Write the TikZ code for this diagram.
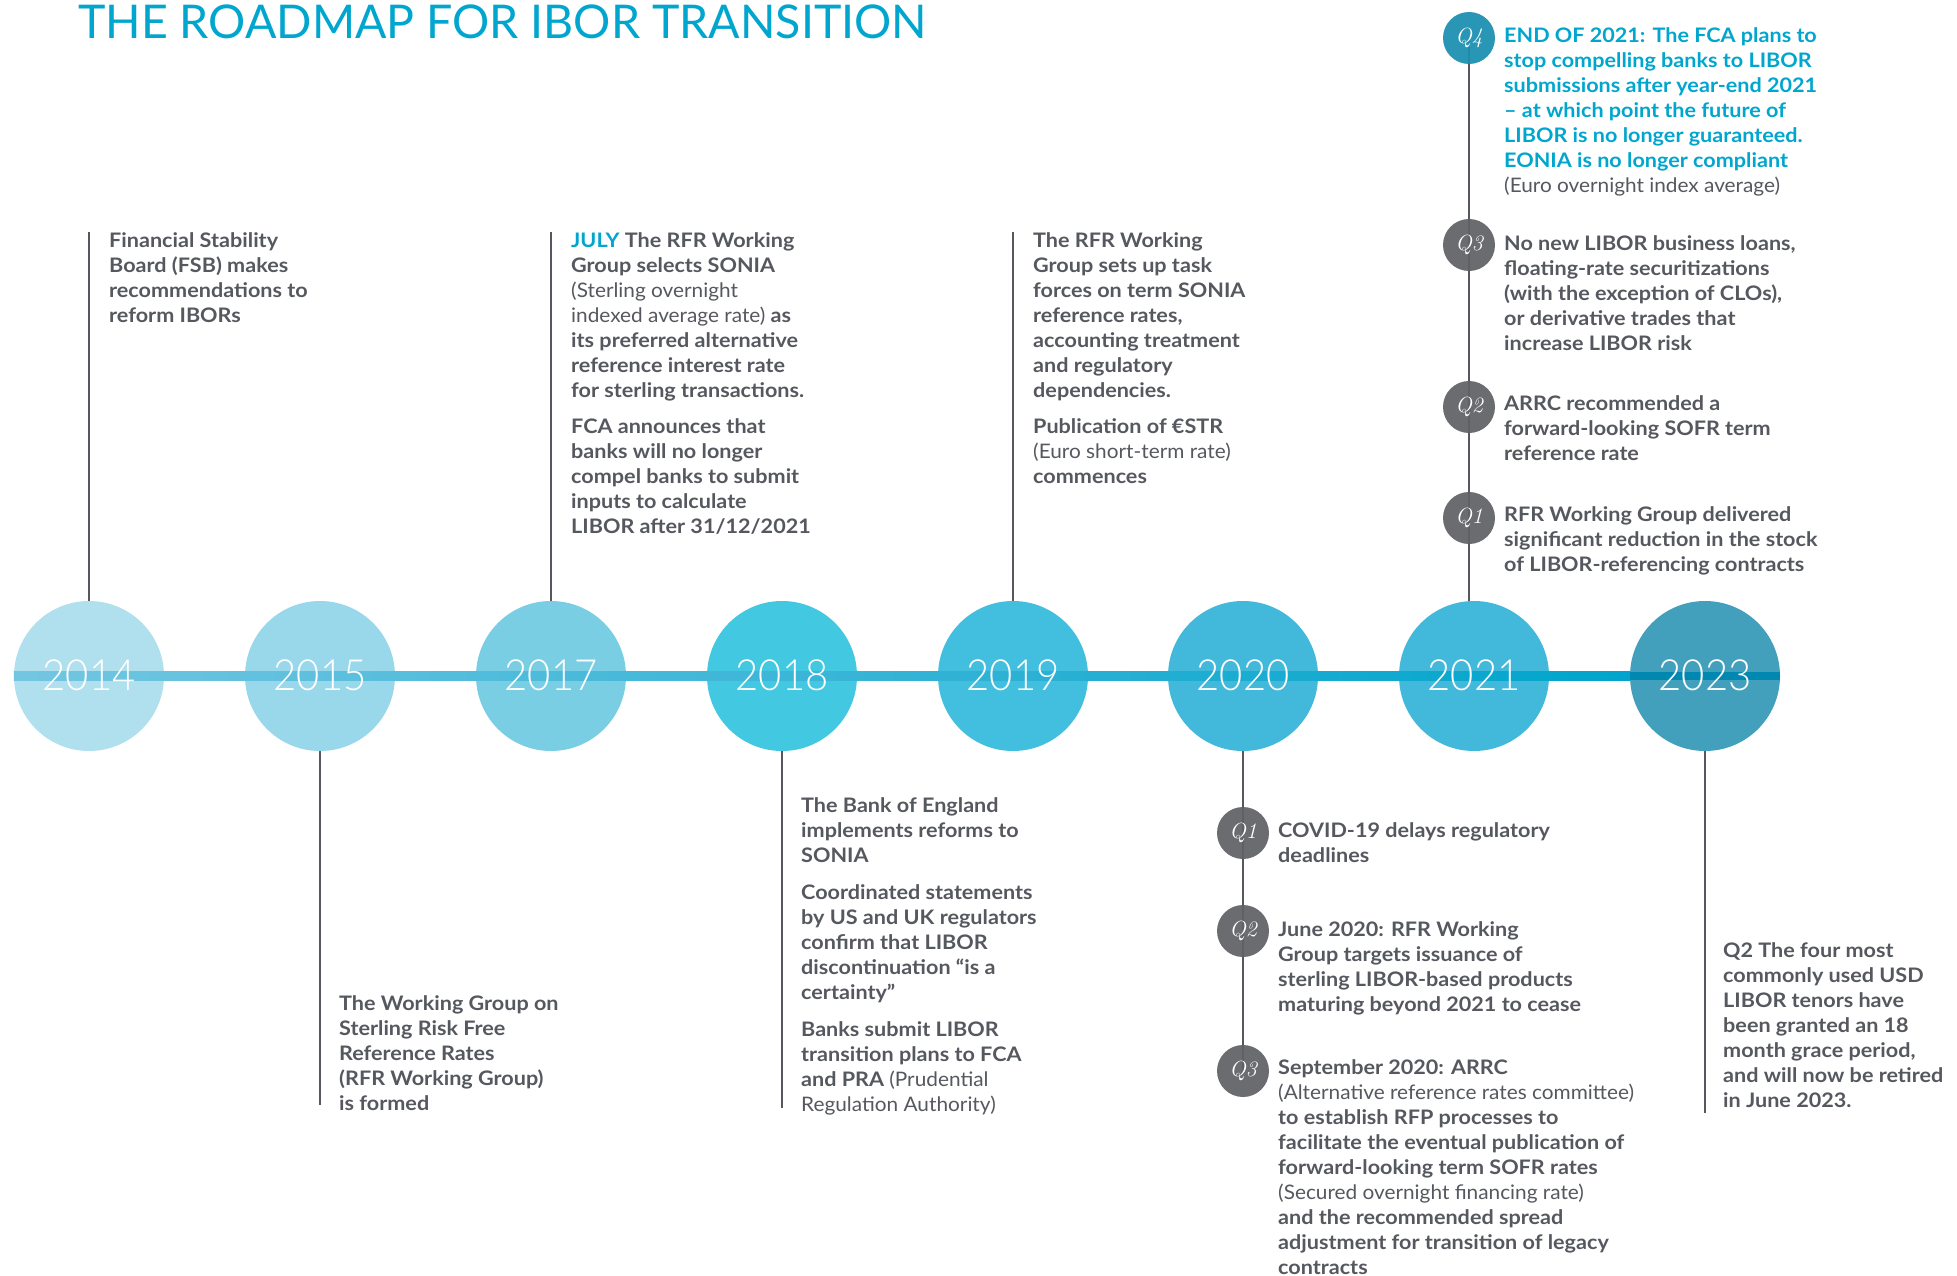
\documentclass[tikz,border=0pt]{standalone}
\usepackage{fontspec}
\setmainfont{Lato Bold}[FakeStretch=1.08]
\newfontfamily\regf{Lato}[FakeStretch=1.04]
\newfontfamily\titlef{Lato}
\newfontfamily\lightf{Lato Light}[FakeStretch=0.93]
\newfontfamily\qf{Latin Modern Roman}
\usetikzlibrary{calc}
\definecolor{tgray}{RGB}{85,88,94}
\definecolor{lgray}{RGB}{85,88,94}
\definecolor{qgray}{RGB}{95,97,102}
\definecolor{qteal}{RGB}{26,143,176}
\definecolor{tblue}{RGB}{0,166,206}
\definecolor{c14}{RGB}{176,223,238}
\definecolor{c15}{RGB}{152,216,234}
\definecolor{c17}{RGB}{121,206,228}
\definecolor{c18}{RGB}{66,200,224}
\definecolor{c19}{RGB}{66,191,222}
\definecolor{c20}{RGB}{66,184,218}
\definecolor{c21}{RGB}{66,184,218}
\definecolor{c23}{RGB}{66,160,189}
\definecolor{lineL}{RGB}{115,198,225}
\definecolor{lineM}{RGB}{12,180,216}
\definecolor{lineR}{RGB}{0,164,204}
\definecolor{lineD}{RGB}{0,136,176}
\tikzset{
  yearc/.style={circle, minimum size=150pt, inner sep=0pt, draw=none},
  yeartxt/.style={anchor=base, inner sep=0pt, text=white, font=\lightf\fontsize{43}{43}\selectfont},
  conn/.style={draw=lgray, line width=2.5pt},
  badge/.style={circle, minimum size=52pt, inner sep=0pt, fill=qgray, fill opacity=0.93, text opacity=1, text=white, font=\qf\itshape\fontsize{22}{22}\selectfont},
  txt/.style={anchor=north west, inner sep=0pt, align=left, text=tgray, font=\fontsize{20}{25}\selectfont},
}
\begin{document}
\begin{tikzpicture}[x=1pt,y=-1pt]
\fill[white] (0,0) rectangle (1957,1276);
\useasboundingbox (0,0) rectangle (1957,1276);

% title
\node[anchor=base west, inner sep=0pt, text=tblue, font=\titlef\fontsize{46.5}{46.5}\selectfont] (title) at (78,39) {THE ROADMAP FOR IBOR TRANSITION};

% circles
\node[yearc, fill=c14] (y14) at (89,676) {};
\node[yearc, fill=c15] (y15) at (320,676) {};
\node[yearc, fill=c17] (y17) at (551,676) {};
\node[yearc, fill=c18] (y18) at (782,676) {};
\node[yearc, fill=c19] (y19) at (1013,676) {};
\node[yearc, fill=c20] (y20) at (1243,676) {};
\node[yearc, fill=c21] (y21) at (1474,676) {};
\node[yearc, fill=c23] (y23) at (1705,676) {};

% horizontal timeline
\shade[left color=lineL, middle color=lineM, right color=lineR] ($(y14.west)+(0,-4.2)$) rectangle ($(y23.west)+(0,4.2)$);
\fill[lineD] ($(y23.west)+(0,-4.2)$) rectangle ($(y23.east)+(0,4.2)$);

% year labels
\node[yeartxt] (t14) at (89,690) {2014};
\node[yeartxt] (t15) at (320,690) {2015};
\node[yeartxt] (t17) at (551,690) {2017};
\node[yeartxt] (t18) at (782,690) {2018};
\node[yeartxt] (t19) at (1013,690) {2019};
\node[yeartxt] (t20) at (1243,690) {2020};
\node[yeartxt] (t21) at (1474,690) {2021};
\node[yeartxt] (t23) at (1705,690) {2023};

% connector ends
\coordinate (top14) at (89,232);
\coordinate (top17) at (551,232);
\coordinate (top19) at (1013,232);
\coordinate (bot15) at (320,1105);
\coordinate (bot18) at (782,1108);
\coordinate (bot23) at (1705,1113);

\draw[conn] (y14.north) -- (top14);
\draw[conn] (y17.north) -- (top17);
\draw[conn] (y19.north) -- (top19);
\draw[conn] (y15.south) -- (bot15);
\draw[conn] (y18.south) -- (bot18);
\draw[conn] (y23.south) -- (bot23);

% badge anchors
\coordinate (q20a) at (1243,833);
\coordinate (q20b) at (1243,931);
\coordinate (q20c) at (1243,1071);
\coordinate (q21d) at (1469,38);
\coordinate (q21c) at (1469,245);
\coordinate (q21b) at (1469,407);
\coordinate (q21a) at (1469,518);

\draw[conn] (y20.south) -- (q20c);
\draw[conn] (q21d) -- (q21d |- y21.north);

\node[badge] (b20a) at (q20a) {Q1};
\node[badge] (b20b) at (q20b) {Q2};
\node[badge] (b20c) at (q20c) {Q3};
\node[badge, fill=qteal] (b21d) at (q21d) {Q4};
\node[badge] (b21c) at (q21c) {Q3};
\node[badge] (b21b) at (q21b) {Q2};
\node[badge] (b21a) at (q21a) {Q1};

% text blocks
\node[txt] (n14) at (109,229.5) {\strut Financial Stability\\
Board (FSB) makes\\
recommendations to\\
reform IBORs};

\node[txt] (n17) at (571,229.5) {\strut{\color{tblue}JULY} The RFR Working\\
Group selects SONIA\\
{\regf (Sterling overnight}\\
{\regf indexed average rate)} as\\
its preferred alternative\\
reference interest rate\\
for sterling transactions.\\[11pt]
FCA announces that\\
banks will no longer\\
compel banks to submit\\
inputs to calculate\\
LIBOR after 31/12/2021};

\node[txt] (n19) at (1033,229.5) {\strut The RFR Working\\
Group sets up task\\
forces on term SONIA\\
reference rates,\\
accounting treatment\\
and regulatory\\
dependencies.\\[11pt]
Publication of €STR\\
{\regf (Euro short-term rate)}\\
commences};

\node[txt] (n15) at (339,992.5) {\strut The Working Group on\\
Sterling Risk Free\\
Reference Rates\\
(RFR Working Group)\\
is formed};

\node[txt] (n18) at (801,794.5) {\strut The Bank of England\\
implements reforms to\\
SONIA\\[12pt]
Coordinated statements\\
by US and UK regulators\\
confirm that LIBOR\\
discontinuation “is a\\
certainty”\\[12pt]
Banks submit LIBOR\\
transition plans to FCA\\
and PRA {\regf (Prudential}\\
{\regf Regulation Authority)}};

\node[txt] (n20a) at (1278,820) {\strut COVID-19 delays regulatory\\
deadlines};

\node[txt] (n20b) at (1278,919) {\strut June 2020: RFR Working\\
Group targets issuance of\\
sterling LIBOR-based products\\
maturing beyond 2021 to cease};

\node[txt] (n20c) at (1278,1056.5) {\strut September 2020: ARRC\\
{\regf (Alternative reference rates committee)}\\
to establish RFP processes to\\
facilitate the eventual publication of\\
forward-looking term SOFR rates\\
{\regf (Secured overnight financing rate)}\\
and the recommended spread\\
adjustment for transition of legacy\\
contracts};

\node[txt, text=tblue] (n21d) at (1504,25.2) {\strut END OF 2021: The FCA plans to\\
stop compelling banks to LIBOR\\
submissions after year-end 2021\\
– at which point the future of\\
LIBOR is no longer guaranteed.\\
EONIA is no longer compliant\\
{\regf\color{tgray}(Euro overnight index average)}};

\node[txt] (n21c) at (1504,232.5) {\strut No new LIBOR business loans,\\
floating-rate securitizations\\
(with the exception of CLOs),\\
or derivative trades that\\
increase LIBOR risk};

\node[txt] (n21b) at (1504,393.2) {\strut ARRC recommended a\\
forward-looking SOFR term\\
reference rate};

\node[txt] (n21a) at (1504,504.2) {\strut RFR Working Group delivered\\
significant reduction in the stock\\
of LIBOR-referencing contracts};

\node[txt] (n23) at (1723,940.2) {\strut Q2 The four most\\
commonly used USD\\
LIBOR tenors have\\
been granted an 18\\
month grace period,\\
and will now be retired\\
in June 2023.};
\end{tikzpicture}
\end{document}
